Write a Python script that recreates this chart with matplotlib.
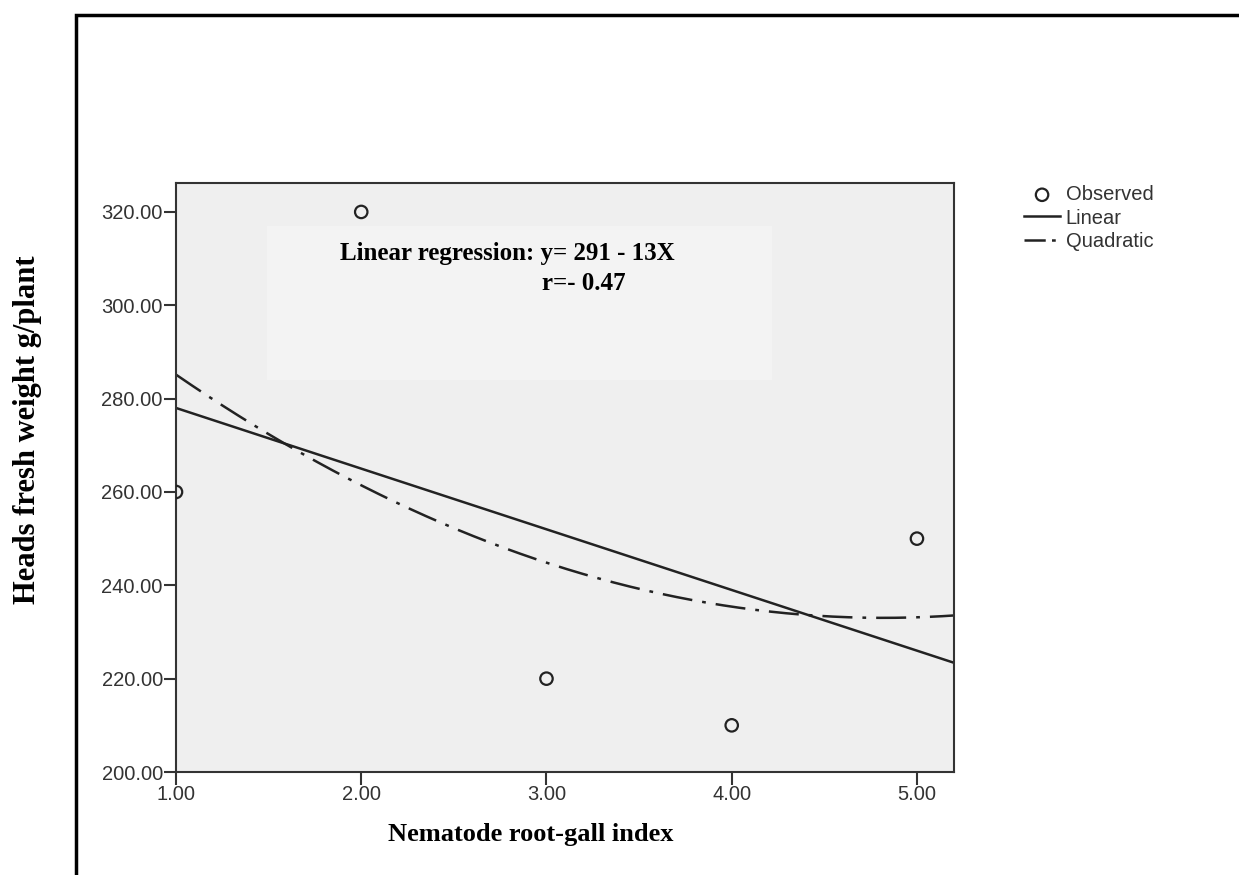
import matplotlib
matplotlib.use("Agg")
import matplotlib.pyplot as plt
import numpy as np
from matplotlib.patches import Rectangle

gall_index = [1, 2, 3, 4, 5]
fresh_weight = [260, 320, 220, 210, 250]

x_ticks = [1, 2, 3, 4, 5]
y_ticks = [200, 220, 240, 260, 280, 300, 320]

TICK_COLOR = '#333333'
BG = '#efefef'

fig = plt.figure(figsize=(12.39, 8.75), dpi=100)

# outer frame (only left & top edges visible in the crop)
fig.patches.append(Rectangle((76 / 1239, -0.1), 1.2, 1 - 15 / 875 + 0.1,
                             transform=fig.transFigure, fill=False,
                             edgecolor='black', linewidth=2.5))

ax = fig.add_axes([176 / 1239, 1 - 772 / 875, (954 - 176) / 1239, (772 - 183) / 875])
ax.set_facecolor(BG)
ax.set_xlim(1, 5.2)
ax.set_ylim(200, 326.2)

# lighter box behind the annotation
ax.add_patch(Rectangle((1.49, 284), 2.73, 33, facecolor='#f3f3f3',
                       edgecolor='none', zorder=0.5))

# fitted curves
xs = np.linspace(1, 5.2, 200)
lin = np.polyfit(gall_index, fresh_weight, 1)
quad = np.polyfit(gall_index, fresh_weight, 2)

ax.scatter(gall_index, fresh_weight, s=80, facecolors='none',
           edgecolors='#222222', linewidths=1.6, zorder=3, label='Observed')
ax.plot(xs, np.polyval(lin, xs), color='#222222', lw=1.8, label='Linear')
ax.plot(xs, np.polyval(quad, xs), color='#222222', lw=1.8,
        linestyle=(0, (12, 4, 1.5, 4)), label='Quadratic')

ax.set_xticks(x_ticks)
ax.set_xticklabels([f'{v:.2f}' for v in x_ticks])
ax.set_yticks(y_ticks)
ax.set_yticklabels([f'{v:.2f}' for v in y_ticks])
ax.tick_params(direction='out', length=9, width=1.5, color=TICK_COLOR,
               labelcolor=TICK_COLOR, labelsize=14.5, pad=0.5)
for lab in ax.get_xticklabels() + ax.get_yticklabels():
    lab.set_fontfamily('Liberation Sans')
for sp in ax.spines.values():
    sp.set_color(TICK_COLOR)
    sp.set_linewidth(1.5)

# annotation
ax.text(1.885, 311.0, 'Linear regression: y= 291 - 13X', fontsize=18,
        fontweight='bold', family='Liberation Serif', va='center')
ax.text(2.975, 304.6, 'r=- 0.47', fontsize=18,
        fontweight='bold', family='Liberation Serif', va='center')

# axis titles
fig.text(531 / 1239, 1 - 834 / 875, 'Nematode root-gall index', fontsize=19,
         fontweight='bold', family='Liberation Serif', ha='center', va='center')
fig.text(28 / 1239, 1 - 430 / 875, 'Heads fresh weight g/plant', fontsize=22,
         fontweight='bold', family='Liberation Serif', ha='center', va='center',
         rotation=90)

leg = ax.legend(loc='upper left', bbox_to_anchor=(1.075, 1.017), frameon=False,
                handlelength=1.75, handletextpad=0.3, labelspacing=0.22,
                borderaxespad=0.2,
                prop={'family': 'Liberation Sans', 'size': 14.5})
for t in leg.get_texts():
    t.set_color(TICK_COLOR)
# shorter dash-dot so the dot shows in the legend sample
leg.get_lines()[1].set_linestyle((0, (8.5, 2.5, 1.5, 2.5)))

fig.savefig('out.png', dpi=100)
